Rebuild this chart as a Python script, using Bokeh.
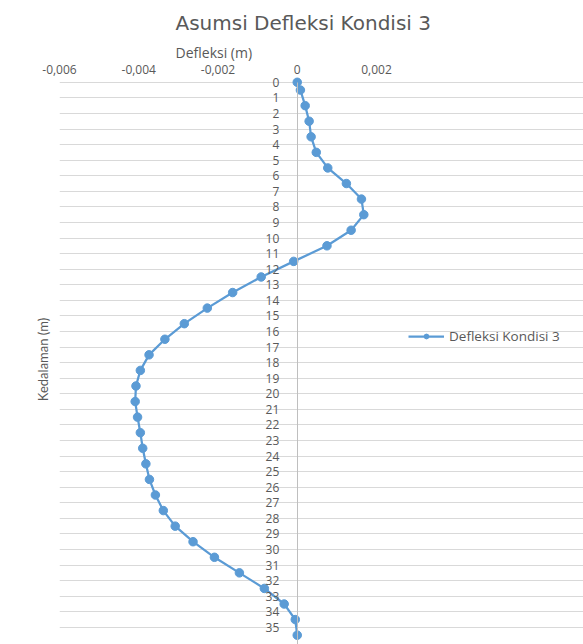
from bokeh.plotting import figure
from bokeh.models import (Range1d, LinearAxis, FixedTicker, CustomJSTickFormatter,
                          Legend, LegendItem, Title)
from bokeh.embed import file_html
from bokeh.resources import INLINE

# ---- data ----
depth = [0, 0.5, 1.5, 2.5, 3.5, 4.5, 5.5, 6.5, 7.5, 8.5, 9.5, 10.5, 11.5, 12.5,
         13.5, 14.5, 15.5, 16.5, 17.5, 18.5, 19.5, 20.5, 21.5, 22.5, 23.5, 24.5,
         25.5, 26.5, 27.5, 28.5, 29.5, 30.5, 31.5, 32.5, 33.5, 34.5, 35.5]
deflection = [0, 0.00008, 0.0002, 0.0003, 0.00035, 0.00048, 0.00077, 0.00124,
              0.00162, 0.00168, 0.00136, 0.00075, -0.00009, -0.00091, -0.00163,
              -0.00227, -0.00285, -0.00334, -0.00374, -0.00396, -0.00407,
              -0.00409, -0.00403, -0.00396, -0.0039, -0.00382, -0.00373,
              -0.00358, -0.00338, -0.00308, -0.00263, -0.00209, -0.00146,
              -0.00083, -0.00033, -0.00005, 0]
x_ticks = [-0.006, -0.004, -0.002, 0, 0.002]
y_ticks = [0, 1, 2, 3, 4, 5, 6, 7, 8, 9, 10, 11, 12, 13, 14, 15, 16, 17, 18,
           19, 20, 21, 22, 23, 24, 25, 26, 27, 28, 29, 30, 31, 32, 33, 34, 35]
series_name = "Defleksi Kondisi 3"
title_text = "Asumsi Defleksi Kondisi 3"
x_title = "Defleksi (m)"
y_title = "Kedalaman (m)"

GREY = "#595959"
BLUE = "#5B9BD5"
FONT = "Open Sans"

# frame extends to the right edge so the legend can sit inside it;
# grid lines / axis are bounded to the real axis range (-0.006 .. 0.002)
p = figure(width=583, height=644, output_backend="svg", toolbar_location=None,
           x_range=Range1d(-0.006, 0.007224), y_range=Range1d(36.1, -0.5),
           x_axis_location=None, y_axis_location=None,
           min_border_left=59, min_border_right=0, min_border_top=74,
           min_border_bottom=0)
p.outline_line_color = None
p.background_fill_color = "white"
p.border_fill_color = "white"

# top x axis (ticks only)
xa = LinearAxis(ticker=FixedTicker(ticks=x_ticks), bounds=(-0.006, 0.002),
                formatter=CustomJSTickFormatter(code="""
                    if (Math.abs(tick) < 1e-12) return "0";
                    return tick.toFixed(3).replace(".", ",");
                """))
xa.axis_line_color = None
xa.major_tick_line_color = None
xa.minor_tick_line_color = None
xa.major_tick_out = 0
xa.major_tick_in = 0
xa.major_label_standoff = 1
xa.major_label_text_font = FONT
xa.major_label_text_font_size = "12px"
xa.major_label_text_color = GREY
p.add_layout(xa, "above")

# x axis title, centred over the real axis range
p.add_layout(Title(text=x_title, text_font=FONT, text_font_size="14px",
                   text_color=GREY, text_font_style="normal", align="left",
                   offset=116, standoff=0), "above")

# main title
p.title = Title(text=title_text, text_font="DejaVu Sans", text_font_size="20px",
                text_color=GREY, text_font_style="normal", align="left",
                offset=116, standoff=12)

# y axis at x = 0 (labels only, line from depth 0 down)
ya = LinearAxis(ticker=FixedTicker(ticks=y_ticks), fixed_location=0,
                bounds=(0, 36.1))
ya.axis_line_color = "#bfbfbf"
ya.axis_line_width = 1
ya.major_tick_line_color = None
ya.minor_tick_line_color = None
ya.major_label_standoff = 12
ya.major_label_text_font = FONT
ya.major_label_text_font_size = "12px"
ya.major_label_text_color = GREY
p.add_layout(ya, "left")

# left axis title only
yl = LinearAxis(ticker=FixedTicker(ticks=[]), axis_label=y_title)
yl.axis_line_color = None
yl.major_tick_line_color = None
yl.minor_tick_line_color = None
yl.major_label_text_font_size = "0px"
yl.axis_label_text_font = "Lato"
yl.axis_label_text_font_size = "13px"
yl.axis_label_text_font_style = "normal"
yl.axis_label_text_color = GREY
yl.axis_label_standoff = 9
p.add_layout(yl, "left")

# grid
p.xgrid.visible = False
p.ygrid.ticker = FixedTicker(ticks=y_ticks)
p.ygrid.bounds = (-0.006, 0.002)
p.ygrid.grid_line_color = "#d9d9d9"
p.ygrid.grid_line_width = 1

# series
r_line = p.line(deflection, depth, line_color=BLUE, line_width=2.25)
r_pts = p.scatter(deflection, depth, marker="circle", size=8.5,
                  fill_color=BLUE, line_color=BLUE)

legend = Legend(items=[LegendItem(label=series_name, renderers=[r_line, r_pts])],
                location=(349, 299), orientation="vertical",
                glyph_width=36, glyph_height=12, label_standoff=5,
                padding=0, margin=0, spacing=0,
                label_text_font=FONT, label_text_font_size="13.5px",
                label_text_color=GREY, border_line_color=None,
                background_fill_alpha=0)
p.add_layout(legend, "center")

open("out.html", "w").write(file_html(p, INLINE))
